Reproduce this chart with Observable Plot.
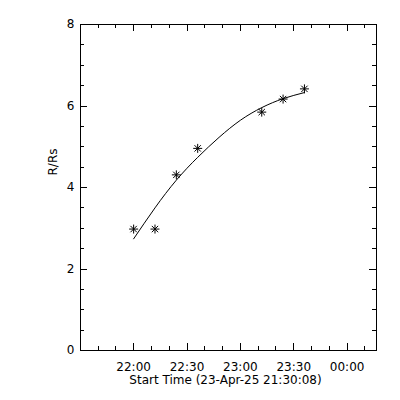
<!DOCTYPE html>
<html><head><meta charset="utf-8">
<script src="https://cdn.jsdelivr.net/npm/d3@7"></script>
<script src="https://cdn.jsdelivr.net/npm/@observablehq/plot@0.6"></script>
<style>body{margin:0;background:#fff}</style>
</head><body><div id="chart"></div>
<script>
// Observations (time HH:MM on 23-Apr-25, R/Rs)
const obsTimes = ["22:00","22:12","22:24","22:36","23:12","23:24","23:36"];
const obsR = [2.98, 2.98, 4.31, 4.96, 5.85, 6.17, 6.42];
// Fitted curve
const fitTimes = ["22:00","22:12","22:24","22:36","22:48","23:00","23:12","23:24","23:36"];
const fitR = [2.74, 3.50, 4.18, 4.74, 5.23, 5.65, 5.96, 6.18, 6.33];
// Axis ticks
const xMajorTicks = ["22:00","22:30","23:00","23:30","00:00"];
const xMinorTicks = ["21:40","21:50","22:00","22:10","22:20","22:30","22:40","22:50","23:00","23:10","23:20","23:30","23:40","23:50","00:00","00:10"];
const yMajorTicks = [0, 2, 4, 6, 8];
const yMinorTicks = [0.5,1,1.5,2,2.5,3,3.5,4,4.5,5,5.5,6,6.5,7,7.5];
const startTime = "21:30:08";
const endTime = "00:16:30";
const xTitle = "Start Time (23-Apr-25 21:30:08)";
const yTitle = "R/Rs";

function toDate(s) {
  const [h, m, sec] = s.split(":").map(Number);
  const day = h < 12 ? 24 : 23;
  return new Date(Date.UTC(2025, 3, day, h, m, sec || 0));
}
const obs = obsTimes.map((t, i) => ({t: toDate(t), r: obsR[i]}));
const fit = fitTimes.map((t, i) => ({t: toDate(t), r: fitR[i]}));
const xMaj = xMajorTicks.map(toDate);
const xMin = xMinorTicks.map(toDate);

const W = 400, H = 400, mL = 80, mR = 24, mT = 24, mB = 50;
const iw = W - mL - mR, ih = H - mT - mB;

const asterisk = {
  draw(ctx, size) {
    const r = Math.sqrt(size / Math.PI);
    const d = r * Math.SQRT1_2;
    ctx.moveTo(-r, 0); ctx.lineTo(r, 0);
    ctx.moveTo(0, -r); ctx.lineTo(0, r);
    ctx.moveTo(-d, -d); ctx.lineTo(d, d);
    ctx.moveTo(-d, d); ctx.lineTo(d, -d);
  }
};

const crisp = {stroke: "black", shapeRendering: "crispEdges"};

const chart = Plot.plot({
  width: W, height: H,
  marginLeft: mL, marginRight: mR, marginTop: mT, marginBottom: mB,
  style: {fontFamily: "DejaVu Sans", fontSize: "12px", color: "black", background: "white"},
  x: {type: "utc", domain: [toDate(startTime), toDate(endTime)]},
  y: {domain: [0, 8]},
  marks: [
    Plot.frame(crisp),
    // inward ticks, bottom & top
    Plot.ruleX(xMin, {x: d => d, insetTop: ih - 4, ...crisp}),
    Plot.ruleX(xMaj, {x: d => d, insetTop: ih - 7, ...crisp}),
    Plot.ruleX(xMin, {x: d => d, insetBottom: ih - 4, ...crisp}),
    Plot.ruleX(xMaj, {x: d => d, insetBottom: ih - 7, ...crisp}),
    // inward ticks, left & right
    Plot.ruleY(yMinorTicks, {y: d => d, insetRight: iw - 4, ...crisp}),
    Plot.ruleY(yMajorTicks, {y: d => d, insetRight: iw - 7, ...crisp}),
    Plot.ruleY(yMinorTicks, {y: d => d, insetLeft: iw - 4, ...crisp}),
    Plot.ruleY(yMajorTicks, {y: d => d, insetLeft: iw - 7, ...crisp}),
    Plot.axisX(xMaj, {anchor: "bottom", tickSize: 0, tickPadding: 12, tickFormat: d3.utcFormat("%H:%M"), label: null, fill: "black"}),
    Plot.axisY(yMajorTicks, {anchor: "left", tickSize: 0, tickPadding: 6, label: null, fill: "black"}),
    Plot.text([xTitle], {frameAnchor: "bottom", lineAnchor: "top", dy: 25, dx: -3, fill: "black"}),
    Plot.text([yTitle], {frameAnchor: "left", rotate: -90, dx: -27, dy: -12, fill: "black"}),
    Plot.line(fit, {x: "t", y: "r", stroke: "black", strokeWidth: 1, curve: "natural"}),
    Plot.dot(obs, {x: "t", y: "r", symbol: asterisk, r: 4.5, stroke: "black", fill: "none", strokeWidth: 1})
  ]
});
document.getElementById("chart").append(chart);
</script>
</body></html>
